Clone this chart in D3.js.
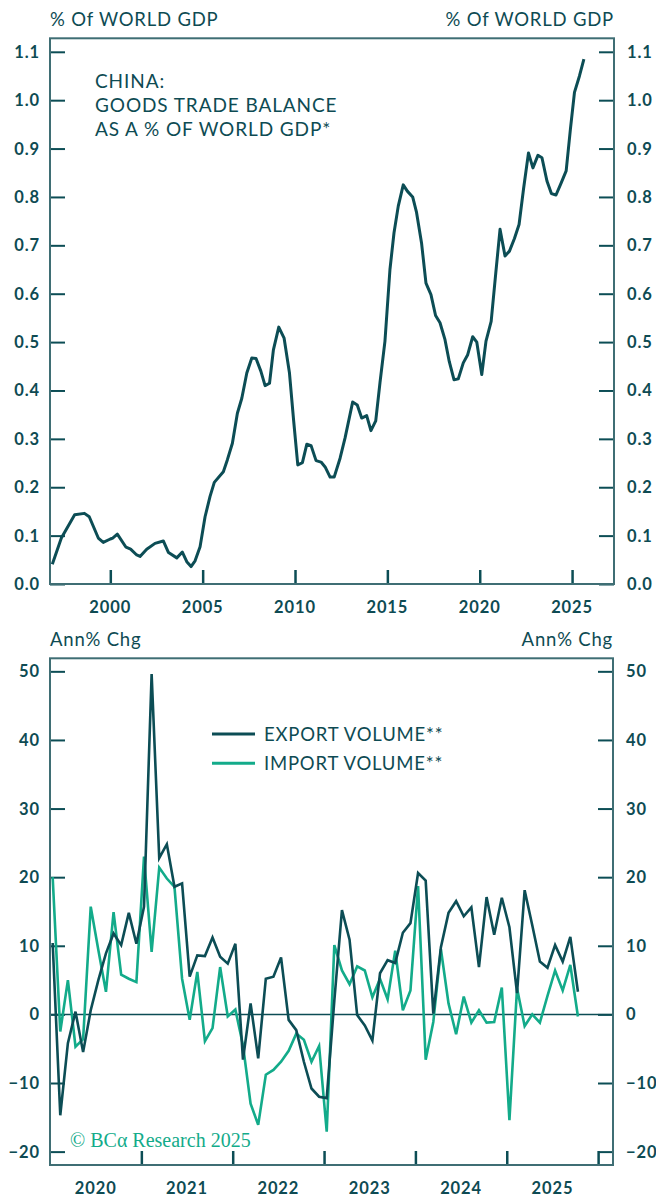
<!DOCTYPE html>
<html>
<head>
<meta charset="utf-8">
<script src="https://cdn.jsdelivr.net/npm/d3@7"></script>
<style>
  body { margin: 0; background: #fff; }
  svg { display: block; }
  .tick-label { font-family: Lato, sans-serif; font-weight: 700; font-size: 16.5px; fill: #0e4b53; letter-spacing: 0.9px; }
  .head { font-family: Lato, sans-serif; font-size: 18.5px; fill: #0e4b53; letter-spacing: 0.8px; }
</style>
</head>
<body>
<svg id="chart"></svg>
<script>
// top panel: goods trade balance, % of world GDP
const balanceYears = [1996.86,1997.35,1998.07,1998.6,1998.86,1999.35,1999.62,2000.0,2000.13,2000.38,2000.85,2001.1,2001.43,2001.61,2001.97,2002.42,2002.87,2003.15,2003.6,2003.9,2004.14,2004.37,2004.59,2004.86,2005.13,2005.4,2005.63,2006.12,2006.34,2006.61,2006.88,2007.12,2007.39,2007.66,2007.89,2008.15,2008.38,2008.62,2008.83,2009.12,2009.41,2009.7,2009.92,2010.15,2010.4,2010.64,2010.87,2011.14,2011.41,2011.63,2011.9,2012.12,2012.44,2012.71,2013.12,2013.37,2013.61,2013.88,2014.11,2014.37,2014.6,2014.87,2015.14,2015.36,2015.59,2015.86,2016.08,2016.37,2016.58,2016.85,2017.09,2017.36,2017.61,2017.85,2018.12,2018.35,2018.61,2018.84,2019.11,2019.35,2019.62,2019.84,2020.11,2020.34,2020.62,2020.87,2021.1,2021.37,2021.61,2021.88,2022.13,2022.37,2022.64,2022.88,2023.15,2023.37,2023.64,2023.88,2024.13,2024.4,2024.68,2024.91,2025.13,2025.4,2025.64];
const balanceValues = [0.041,0.095,0.143,0.146,0.139,0.095,0.086,0.093,0.095,0.103,0.076,0.072,0.06,0.057,0.072,0.084,0.089,0.065,0.054,0.066,0.046,0.036,0.048,0.077,0.139,0.181,0.21,0.232,0.257,0.291,0.353,0.384,0.436,0.467,0.466,0.44,0.41,0.415,0.484,0.531,0.508,0.436,0.34,0.246,0.251,0.289,0.286,0.255,0.252,0.242,0.221,0.221,0.26,0.302,0.376,0.37,0.343,0.348,0.317,0.337,0.416,0.502,0.65,0.726,0.781,0.825,0.812,0.8,0.768,0.705,0.622,0.598,0.555,0.54,0.505,0.46,0.422,0.424,0.457,0.474,0.511,0.5,0.433,0.502,0.543,0.643,0.733,0.678,0.688,0.714,0.743,0.816,0.891,0.86,0.886,0.881,0.833,0.807,0.804,0.828,0.854,0.94,1.016,1.05,1.085];
const topYTicks = [0, 0.1, 0.2, 0.3, 0.4, 0.5, 0.6, 0.7, 0.8, 0.9, 1.0, 1.1];
const topXTicks = [2000, 2005, 2010, 2015, 2020, 2025];

// bottom panel: monthly volumes, annual % change, Jan 2020 onwards
const volStart = 2020;
const exportVolume = [10.4,-14.7,-4.2,0.4,-5.5,0.6,5.0,8.9,11.8,10.1,14.8,10.3,15.7,49.6,22.8,24.8,18.6,19.1,5.5,8.6,8.5,11.2,8.4,7.4,10.3,-6.6,1.6,-6.4,5.2,5.5,8.3,-0.8,-2.3,-6.9,-10.8,-12.0,-12.2,2.0,15.2,10.9,-0.1,-1.6,-3.8,6.0,7.9,7.5,11.9,13.3,20.6,19.5,0.1,9.8,14.8,16.5,14.3,15.6,6.9,17.1,11.6,17.0,12.7,3.1,18.1,13.0,7.7,6.8,10.1,7.7,11.3,3.3];
const importVolume = [20.0,-2.5,5.0,-4.7,-3.6,15.7,9.4,3.3,14.9,5.8,5.2,4.7,23.0,9.1,21.4,19.8,18.6,5.2,-0.8,6.2,-3.9,-2.0,6.9,-0.3,0.7,-4.5,-13.0,-16.1,-8.8,-8.1,-6.9,-5.3,-2.8,-3.7,-6.9,-4.6,-17.1,10.1,6.4,4.4,7.0,6.4,2.5,5.2,2.2,9.3,0.6,3.5,18.7,-6.6,-1.1,9.5,1.6,-2.9,2.6,-1.2,0.6,-1.2,-1.1,3.9,-15.4,3.8,-1.7,0.0,-1.2,2.7,6.4,3.5,7.2,-0.3];
const botYTicks = [-20, -10, 0, 10, 20, 30, 40, 50];
const botYearLabels = [2020, 2021, 2022, 2023, 2024, 2025];
const botXTicks = [2021, 2022, 2023, 2024, 2025, 2026];

const DARK = '#0c4d55';
const TEAL = '#13ab8a';
const FRAME = '#3f6e74';

const svg = d3.select('#chart').attr('width', 656).attr('height', 1201);

function panel(cfg) {
  const g = svg.append('g');
  const x = cfg.x, y = cfg.y;
  const [x0, x1] = x.range();
  const [yb, yt] = y.range();

  // y ticks, inward on both sides
  g.append('g').attr('transform', `translate(${x0},0)`)
    .call(d3.axisRight(y).tickValues(cfg.yTicks).tickSize(15).tickFormat(''))
    .call(a => a.select('.domain').remove())
    .call(a => a.selectAll('line').attr('stroke', DARK).attr('stroke-width', 2));
  g.append('g').attr('transform', `translate(${x1},0)`)
    .call(d3.axisLeft(y).tickValues(cfg.yTicks).tickSize(15).tickFormat(''))
    .call(a => a.select('.domain').remove())
    .call(a => a.selectAll('line').attr('stroke', DARK).attr('stroke-width', 2));
  // x ticks, pointing up
  g.append('g').attr('transform', `translate(0,${yb})`)
    .call(d3.axisTop(x).tickValues(cfg.xTicks).tickSize(14).tickFormat(''))
    .call(a => a.select('.domain').remove())
    .call(a => a.selectAll('line').attr('stroke', DARK).attr('stroke-width', 2.5));

  // tick labels
  cfg.yTicks.forEach(v => {
    g.append('text').attr('class', 'tick-label').attr('x', x0 - 10).attr('y', y(v))
      .attr('text-anchor', 'end').attr('dy', '0.36em').text(cfg.yFmt(v));
    g.append('text').attr('class', 'tick-label').attr('x', x1 + 13).attr('y', y(v))
      .attr('text-anchor', 'start').attr('dy', '0.36em').text(cfg.yFmt(v));
  });
  cfg.xLabels.forEach(v => {
    g.append('text').attr('class', 'tick-label').attr('x', x(v + cfg.xLabelShift)).attr('y', yb + 23)
      .attr('text-anchor', 'middle').attr('dy', '0.36em').text(v);
  });

  // axis headers
  g.append('text').attr('class', 'head').attr('x', x0).attr('y', yt - 12).text(cfg.head);
  g.append('text').attr('class', 'head').attr('x', x1).attr('y', yt - 12)
    .attr('text-anchor', 'end').text(cfg.head);

  return g;
}

function frame(g, x, y) {
  const [x0, x1] = x.range();
  const [yb, yt] = y.range();
  g.append('rect').attr('x', x0).attr('y', yt).attr('width', x1 - x0).attr('height', yb - yt)
    .attr('fill', 'none').attr('stroke', FRAME).attr('stroke-width', 2);
}

// ---- top panel
const xTop = d3.scaleLinear().domain([1996.735, 2027.27]).range([50, 614]);
const yTop = d3.scaleLinear().domain([0, 1.1279]).range([584, 38.3]);
const gTop = panel({
  x: xTop, y: yTop, yTicks: topYTicks, xTicks: topXTicks, xLabels: topXTicks, xLabelShift: 0,
  yFmt: d3.format('.1f'), head: '% Of WORLD GDP'
});
const balance = balanceYears.map((t, i) => ({ t: t, v: balanceValues[i] }));
gTop.append('path').datum(balance)
  .attr('fill', 'none').attr('stroke', DARK).attr('stroke-width', 3).attr('stroke-linejoin', 'round')
  .attr('d', d3.line().x(d => xTop(d.t)).y(d => yTop(d.v)));
frame(gTop, xTop, yTop);

const title = gTop.append('text').attr('class', 'head').attr('x', 95).attr('y', 88)
  .style('font-size', '19px').style('letter-spacing', '0.9px');
['CHINA:', 'GOODS TRADE BALANCE', 'AS A % OF WORLD GDP*'].forEach((s, i) => {
  title.append('tspan').attr('x', 95).attr('dy', i ? 24 : 0).text(s);
});

// ---- bottom panel
const xBot = d3.scaleLinear().domain([2020, 2026.163]).range([50, 613]);
const yBot = d3.scaleLinear().domain([-21.95, 51.9]).range([1165, 658.3]);
const gBot = panel({
  x: xBot, y: yBot, yTicks: botYTicks, xTicks: botXTicks, xLabels: botYearLabels, xLabelShift: 0.5,
  yFmt: d3.format('d'), head: 'Ann% Chg'
});
gBot.append('line').attr('x1', 50).attr('x2', 613).attr('y1', yBot(0)).attr('y2', yBot(0))
  .attr('stroke', DARK).attr('stroke-width', 1.5);

const monthT = i => volStart + (i + 0.35) / 12;
const volLine = d3.line().x((d, i) => xBot(monthT(i))).y(d => yBot(d));
gBot.append('path').datum(importVolume)
  .attr('fill', 'none').attr('stroke', TEAL).attr('stroke-width', 2.6).attr('stroke-linejoin', 'miter')
  .attr('d', volLine);
gBot.append('path').datum(exportVolume)
  .attr('fill', 'none').attr('stroke', DARK).attr('stroke-width', 2.6).attr('stroke-linejoin', 'miter')
  .attr('d', volLine);
frame(gBot, xBot, yBot);

// legend
const legend = [{ name: 'EXPORT VOLUME**', color: DARK }, { name: 'IMPORT VOLUME**', color: TEAL }];
legend.forEach((d, i) => {
  const ly = 734 + i * 29.3;
  gBot.append('line').attr('x1', 212).attr('x2', 255).attr('y1', ly).attr('y2', ly)
    .attr('stroke', d.color).attr('stroke-width', 3);
  gBot.append('text').attr('class', 'head').attr('x', 264).attr('y', ly).attr('dy', '0.36em')
    .text(d.name);
});

gBot.append('text').attr('x', 70).attr('y', 1147)
  .style('font-family', '"Liberation Serif", serif').style('font-size', '20px').style('fill', TEAL)
  .text('© BCα Research 2025');
</script>
</body>
</html>
